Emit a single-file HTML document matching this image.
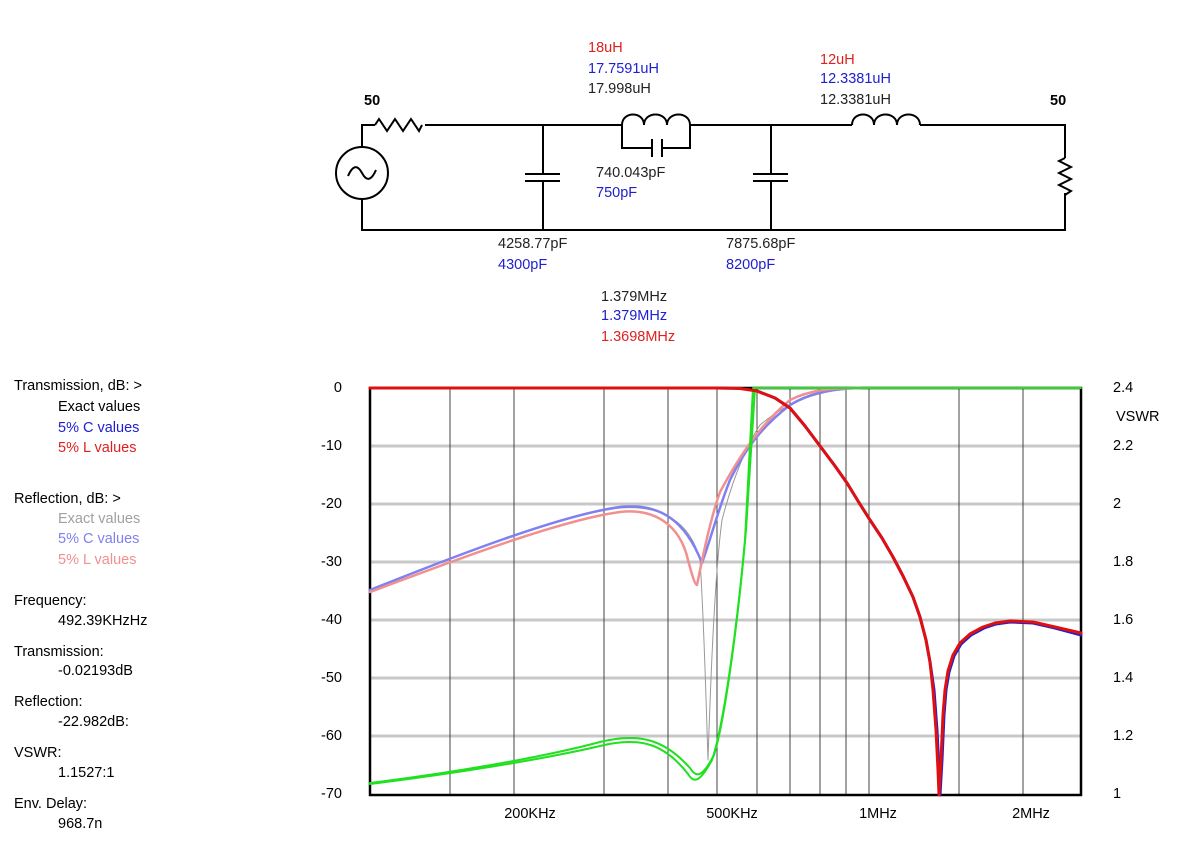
<!DOCTYPE html>
<html><head><meta charset="utf-8"><style>
body{margin:0;background:#fff;width:1200px;height:858px;overflow:hidden}
svg{display:block}
text{font-family:"Liberation Sans",Arial,sans-serif;font-size:14.5px}
</style></head><body>
<svg width="1200" height="858" xmlns="http://www.w3.org/2000/svg">
<g stroke="#000" stroke-width="2" fill="none">
<path d="M362,147 V125 H375 M425,125 H622 M690,125 H852 M920,125 H1065 V158 M1065,193 V230 H362 V199"/>
<path d="M375,125 l4,-6 l8,12 l8,-12 l8,12 l8,-12 l8,12 l3,-6"/>
<circle cx="362" cy="173" r="26"/>
<path d="M348,176 q7,-16 14,-3 q7,13 14,-3"/>
<path d="M543,125 V174 M525,174 H560 M525,181 H560 M543,181 V230"/>
<path d="M771,125 V174 M753,174 H788 M753,181 H788 M771,181 V230"/>
<path d="M622,125 c0,-14 22,-14 22,0 c0,-14 23,-14 23,0 c0,-14 23,-14 23,0"/>
<path d="M622,125 V148 H652 M662,148 H690 V125 M652,139 V157 M662,139 V157"/>
<path d="M852,125 c0,-14 22,-14 22,0 c0,-14 23,-14 23,0 c0,-14 23,-14 23,0"/>
<path d="M1065,158 l-6,3 l12,6 l-12,6 l12,6 l-12,6 l12,6 l-6,4"/>
</g>
<g dominant-baseline="middle">
<text x="364" y="101" font-weight="bold">50</text>
<text x="1050" y="101" font-weight="bold">50</text>
<text x="588" y="48" fill="#e02020">18uH</text>
<text x="588" y="69" fill="#2020d0">17.7591uH</text>
<text x="588" y="89" fill="#222">17.998uH</text>
<text x="820" y="60" fill="#e02020">12uH</text>
<text x="820" y="79" fill="#2020d0">12.3381uH</text>
<text x="820" y="100" fill="#222">12.3381uH</text>
<text x="596" y="173" fill="#222">740.043pF</text>
<text x="596" y="193" fill="#2020d0">750pF</text>
<text x="498" y="244" fill="#222">4258.77pF</text>
<text x="498" y="265" fill="#2020d0">4300pF</text>
<text x="726" y="244" fill="#222">7875.68pF</text>
<text x="726" y="265" fill="#2020d0">8200pF</text>
<text x="601" y="297" fill="#222">1.379MHz</text>
<text x="601" y="316" fill="#2020d0">1.379MHz</text>
<text x="601" y="337" fill="#e02020">1.3698MHz</text>
<text x="14" y="386">Transmission, dB:  &gt;</text>
<text x="58" y="407">Exact values</text>
<text x="58" y="428" fill="#2020d0">5% C values</text>
<text x="58" y="448" fill="#e02020">5% L values</text>
<text x="14" y="499">Reflection, dB:  &gt;</text>
<text x="58" y="519" fill="#a0a0a0">Exact values</text>
<text x="58" y="539" fill="#8080f0">5% C values</text>
<text x="58" y="560" fill="#f09090">5% L values</text>
<text x="14" y="601">Frequency:</text>
<text x="58" y="621">492.39KHzHz</text>
<text x="14" y="652">Transmission:</text>
<text x="58" y="671">-0.02193dB</text>
<text x="14" y="702">Reflection:</text>
<text x="58" y="722">-22.982dB:</text>
<text x="14" y="753">VSWR:</text>
<text x="58" y="773">1.1527:1</text>
<text x="14" y="804">Env. Delay:</text>
<text x="58" y="824">968.7n</text>
<g text-anchor="end">
<text x="342" y="388">0</text><text x="342" y="446">-10</text><text x="342" y="504">-20</text>
<text x="342" y="562">-30</text><text x="342" y="620">-40</text><text x="342" y="678">-50</text>
<text x="342" y="736">-60</text><text x="342" y="794">-70</text>
</g>
<text x="1113" y="388">2.4</text><text x="1116" y="417">VSWR</text><text x="1113" y="446">2.2</text>
<text x="1113" y="504">2</text><text x="1113" y="562">1.8</text><text x="1113" y="620">1.6</text>
<text x="1113" y="678">1.4</text><text x="1113" y="736">1.2</text><text x="1113" y="794">1</text>
<g text-anchor="middle">
<text x="530" y="814">200KHz</text><text x="732" y="814">500KHz</text>
<text x="878" y="814">1MHz</text><text x="1031" y="814">2MHz</text>
</g>
</g>
<g stroke="#c8c8c8" stroke-width="3">
<path d="M370,446H1081M370,504H1081M370,562H1081M370,620H1081M370,678H1081M370,736H1081"/>
</g>
<g stroke="#444" stroke-width="1">
<path d="M450,388V795M514,388V795M604,388V795M668,388V795M717,388V795M757,388V795M790,388V795M820,388V795M846,388V795M869,388V795M959,388V795M1023,388V795"/>
</g>
<rect x="370" y="388" width="711" height="407" fill="none" stroke="#000" stroke-width="2.5"/>
<g fill="none" stroke-linejoin="round" stroke-linecap="round">
<path stroke="#999" stroke-width="1" d="M370,591 C450,558 560,515 620,508 C660,505 690,520 700,560 C704,620 706,700 708,760 C710,700 714,580 722,520 C735,470 750,440 760,425 C790,400 820,390 860,388"/>
<path stroke="#8080f0" stroke-width="2.5" d="M370,590 C450,558 560,515 620,507 C660,503 685,520 702,563 C712,535 718,510 730,480 C745,450 760,428 790,405 C810,393 830,389 860,388"/>
<path stroke="#f09090" stroke-width="2.5" d="M370,592 C450,562 560,520 620,512 C655,508 680,525 688,560 C692,575 695,585 697,585 C702,560 710,520 720,492 C740,455 760,425 790,400 C810,390 830,388 860,388"/>
<path stroke="#20e020" stroke-width="2" d="M370,783 C450,773 540,758 600,742 C640,732 665,740 690,768 C696,778 702,778 714,755 C725,720 738,620 745,540 L753,388 H1081"/>
<path stroke="#20e020" stroke-width="2" d="M370,784 C450,774 540,760 600,746 C640,736 665,744 688,774 C694,784 700,782 712,760 C724,725 738,620 746,530 L755,388"/>
<path stroke="#111" stroke-width="2.5" d="M370,388 H715 C740,388 750,389 757,391"/>
<polyline stroke="#2020d0" stroke-width="3" points="757,391 775,398 790,408 805,426 820,446 835,466 847,483 858,501 870,520 882,538 893,557 903,576 913,597 920,617 926,640 930,662 934,690 937,730 939,770 940,795 942,760 944,715 946,690 949,672 954,656 961,644 971,635 984,628 996,624 1010,622 1033,623 1055,628 1081,635"/>
<polyline stroke="#e01010" stroke-width="3" points="370,388 715,388 740,388.5 757,391 775,398 790,408 805,426 820,446 835,466 847,483 858,501 870,520 882,538 893,557 903,576 913,597 920,617 926,640 930,662 933,690 936,730 938,770 939,795 941,760 943,715 945,690 948,671 953,655 960,643 970,634 983,627 995,623 1010,621 1033,622 1055,627 1081,633"/>
</g>
</svg>
</body></html>
